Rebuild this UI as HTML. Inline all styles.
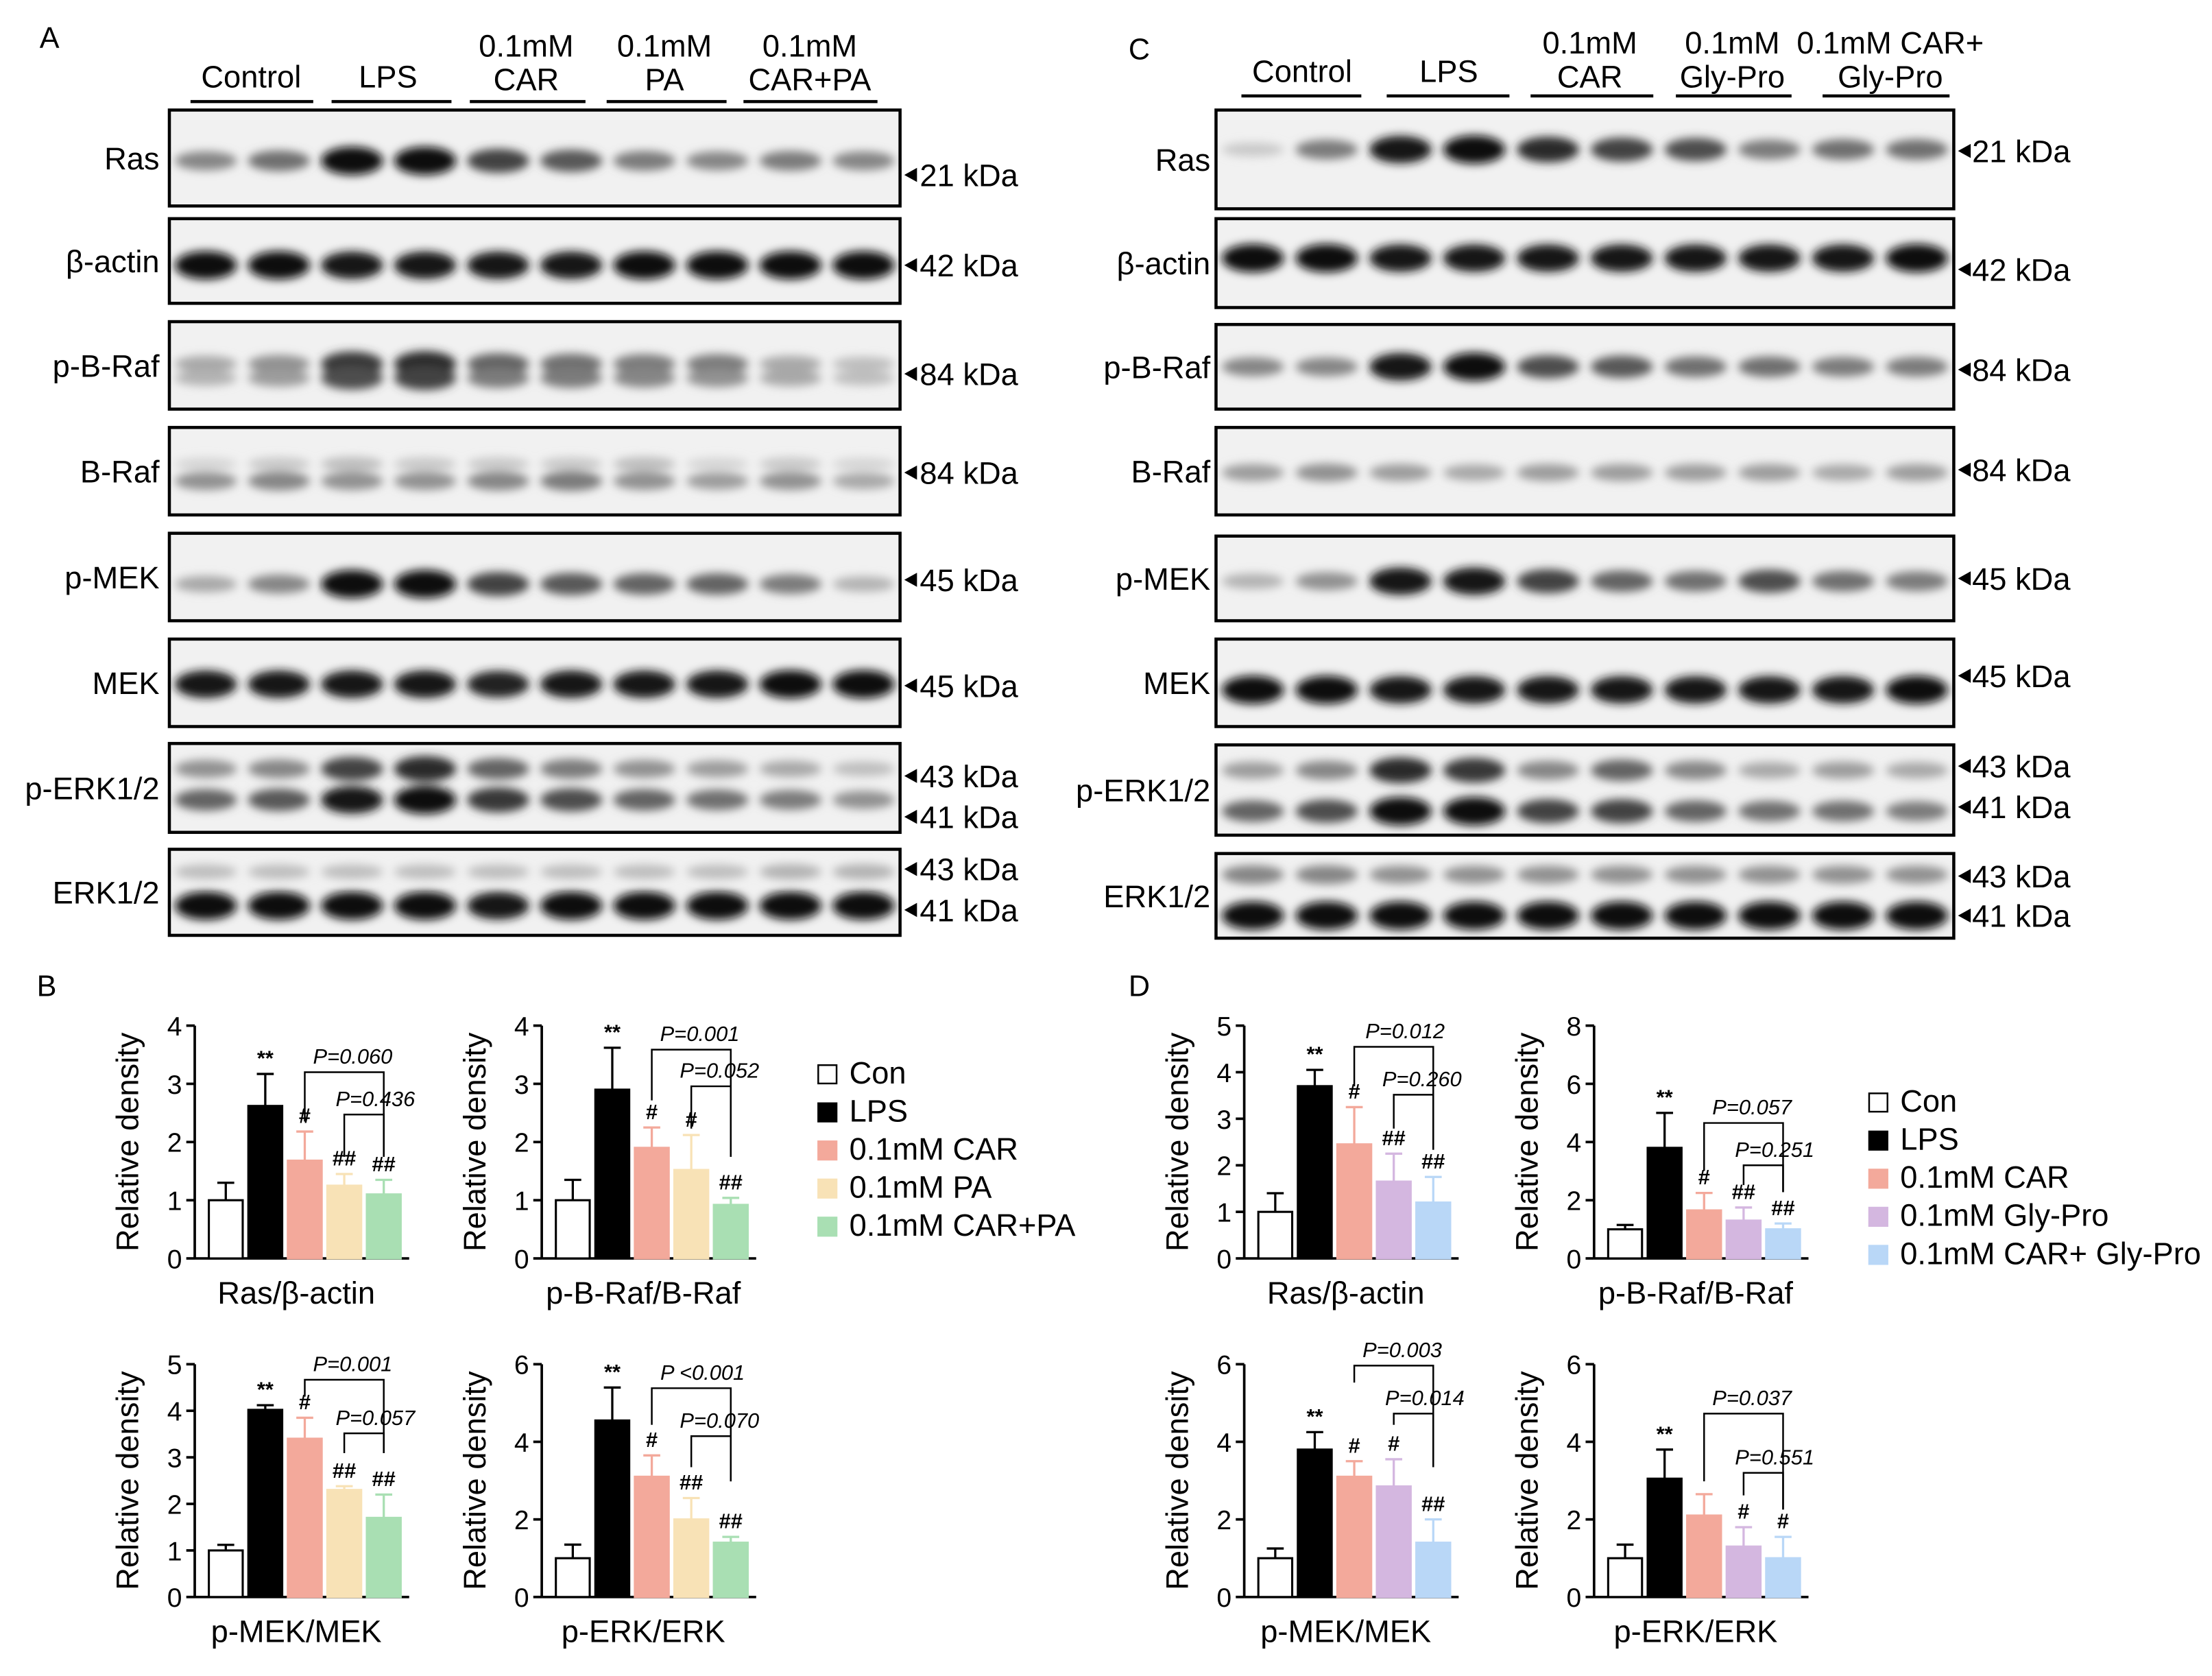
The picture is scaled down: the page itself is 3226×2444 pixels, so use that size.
<!DOCTYPE html>
<html><head><meta charset="utf-8"><style>html,body{margin:0;padding:0;background:#fff}svg{display:block}text{font-family:"Liberation Sans",sans-serif}</style></head>
<body>
<svg id="fig" xmlns="http://www.w3.org/2000/svg" width="3226" height="2444" viewBox="0 0 1568 1188">
<defs>
<filter id="blur" x="-50%" y="-100%" width="200%" height="300%"><feGaussianBlur stdDeviation="3.2"/></filter>
<filter id="blur2" x="-20%" y="-20%" width="140%" height="140%"><feGaussianBlur stdDeviation="6"/></filter>
</defs>
<g id="root"></g>
</svg>
<script>
// ---- Chart data ----
const groupsB = ["Con","LPS","0.1mM CAR","0.1mM PA","0.1mM CAR+PA"];
const groupsD = ["Con","LPS","0.1mM CAR","0.1mM Gly-Pro","0.1mM CAR+ Gly-Pro"];
const colorsB = ["#ffffff","#000000","#f3a99b","#f8e2b6","#a9dfb3"];
const colorsD = ["#ffffff","#000000","#f3a99b","#d4b7e0","#b9d7f7"];
const rasB = [1.0, 2.62, 1.68, 1.25, 1.1];
const rasBerr = [0.3, 0.55, 0.5, 0.2, 0.25];
const braB = [1.0, 2.9, 1.9, 1.52, 0.92];
const braBerr = [0.35, 0.72, 0.35, 0.6, 0.12];
const mekB = [1.0, 4.02, 3.4, 2.3, 1.7];
const mekBerr = [0.12, 0.1, 0.45, 0.08, 0.5];
const erkB = [1.0, 4.55, 3.1, 2.0, 1.4];
const erkBerr = [0.35, 0.85, 0.55, 0.55, 0.15];
const rasD = [1.0, 3.7, 2.45, 1.65, 1.2];
const rasDerr = [0.4, 0.35, 0.8, 0.6, 0.55];
const braD = [1.0, 3.8, 1.65, 1.3, 1.0];
const braDerr = [0.15, 1.2, 0.6, 0.45, 0.2];
const mekD = [1.0, 3.8, 3.1, 2.85, 1.4];
const mekDerr = [0.25, 0.45, 0.4, 0.7, 0.6];
const erkD = [1.0, 3.05, 2.1, 1.3, 1.0];
const erkDerr = [0.35, 0.75, 0.55, 0.5, 0.55];
const sigB1 = ["","**","#","##","##"];
const sigB2 = ["","**","#","#","##"];
const sigB3 = ["","**","#","##","##"];
const sigB4 = ["","**","#","##","##"];
const sigD1 = ["","**","#","##","##"];
const sigD2 = ["","**","#","##","##"];
const sigD3 = ["","**","#","#","##"];
const sigD4 = ["","**","","#","#"];
const ticks4 = [0,1,2,3,4];
const ticks5 = [0,1,2,3,4,5];
const ticks6 = [0,2,4,6];
const ticks8 = [0,2,4,6,8];

const NS="http://www.w3.org/2000/svg";
const root=document.getElementById('root');
function el(tag,attrs,parent,txt){const e=document.createElementNS(NS,tag);for(const k in attrs)e.setAttribute(k,attrs[k]);if(txt!==undefined)e.textContent=txt;(parent||root).appendChild(e);return e;}

// panel letters
[["A",28,34],["B",26,706],["C",800,42],["D",800,706]].forEach(l=>{
  const t=el('text',{x:l[1],y:l[2],'font-size':21},root,l[0]);
  
  
});

// ---- blots ----
function headers(list,lineY){
  list.forEach(h=>{
    const g=el('g',{});
    
    
    h.lines.forEach((s,i)=>el('text',{x:h.c,y:h.y0+i*24,'font-size':22,'text-anchor':'middle'},g,s));
    el('line',{x1:h.a,x2:h.b,y1:lineY,y2:lineY,stroke:'#000','stroke-width':2.2},g);
  });
}
headers([{c:178,a:135,b:222,y0:62,lines:["Control"]},{c:275,a:235,b:320,y0:62,lines:["LPS"]},
 {c:373,a:333,b:415,y0:40,lines:["0.1mM","CAR"]},{c:471,a:430,b:515,y0:40,lines:["0.1mM","PA"]},
 {c:574,a:527,b:622,y0:40,lines:["0.1mM","CAR+PA"]}],72);
headers([{c:923,a:880,b:965,y0:58,lines:["Control"]},{c:1027,a:983,b:1070,y0:58,lines:["LPS"]},
 {c:1127,a:1085,b:1172,y0:38,lines:["0.1mM","CAR"]},{c:1228,a:1188,b:1270,y0:38,lines:["0.1mM","Gly-Pro"]},
 {c:1340,a:1292,b:1382,y0:38,lines:["0.1mM CAR+","Gly-Pro"]}],68);

const blotA=[
 {n:"Ras",y:78,h:68,b:[{o:36,w:[.45,.55,1,1,.75,.65,.5,.45,.5,.45]}],k:[["21 kDa",46]]},
 {n:"β-actin",y:155,h:60,b:[{o:33,w:[1,1,.95,.95,.95,.95,1,1,1,1]}],k:[["42 kDa",33]]},
 {n:"p-B-Raf",y:228,h:62,b:[{o:30,w:[.3,.4,.8,.85,.6,.55,.5,.5,.3,.2]},{o:40,w:[.25,.35,.7,.75,.5,.5,.45,.4,.3,.2]}],k:[["84 kDa",37]]},
 {n:"B-Raf",y:303,h:62,b:[{o:38,w:[.4,.45,.4,.4,.45,.5,.4,.35,.4,.3]},{o:26,w:[.1,.15,.2,.15,.15,.15,.2,.1,.15,.1]}],k:[["84 kDa",32]]},
 {n:"p-MEK",y:378,h:62,b:[{o:36,w:[.3,.45,1,1,.75,.65,.6,.6,.5,.25]}],k:[["45 kDa",33]]},
 {n:"MEK",y:453,h:62,b:[{o:32,w:[.95,.95,.95,.95,.9,.95,.95,.95,1,1]}],k:[["45 kDa",33]]},
 {n:"p-ERK1/2",y:527,h:63,b:[{o:18,w:[.4,.45,.75,.85,.6,.5,.4,.35,.3,.2]},{o:40,w:[.6,.65,.95,1,.8,.7,.6,.55,.5,.4]}],k:[["43 kDa",23],["41 kDa",52]]},
 {n:"ERK1/2",y:602,h:61,b:[{o:16,w:[.2,.2,.2,.2,.2,.2,.2,.2,.25,.25]},{o:40,w:[1,1,1,1,.95,1,1,1,1,1]}],k:[["43 kDa",14],["41 kDa",43]]}
];
const blotC=[
 {n:"Ras",y:78,h:70,b:[{o:28,w:[.15,.5,.95,1,.85,.75,.7,.5,.55,.55]}],k:[["21 kDa",29]]},
 {n:"β-actin",y:155,h:63,b:[{o:28,w:[1,1,.95,.95,.95,.95,.95,.95,.95,1]}],k:[["42 kDa",36]]},
 {n:"p-B-Raf",y:230,h:60,b:[{o:30,w:[.45,.45,.95,1,.7,.65,.55,.55,.5,.5]}],k:[["84 kDa",32]]},
 {n:"B-Raf",y:303,h:62,b:[{o:32,w:[.35,.4,.35,.3,.35,.35,.35,.35,.3,.35]}],k:[["84 kDa",30]]},
 {n:"p-MEK",y:380,h:60,b:[{o:32,w:[.25,.4,.95,.95,.75,.6,.55,.7,.55,.5]}],k:[["45 kDa",30]]},
 {n:"MEK",y:453,h:62,b:[{o:36,w:[1,1,.95,.95,.95,.95,.95,.95,.95,1]}],k:[["45 kDa",26]]},
 {n:"p-ERK1/2",y:528,h:64,b:[{o:18,w:[.35,.45,.85,.8,.45,.6,.45,.3,.35,.3]},{o:47,w:[.6,.7,1,1,.75,.75,.6,.55,.55,.5]}],k:[["43 kDa",15],["41 kDa",44]]},
 {n:"ERK1/2",y:605,h:60,b:[{o:15,w:[.45,.45,.4,.4,.4,.4,.4,.4,.4,.4]},{o:44,w:[1,1,1,1,1,1,1,1,1,1]}],k:[["43 kDa",16],["41 kDa",44]]}
];
function blots(list,x0,x1,lab,kx,bandW){
  const sp=(x1-x0)/10;
  list.forEach(r=>{
    const g=el('g',{});
    
    
    el('rect',{x:x0,y:r.y,width:x1-x0,height:r.h,fill:'#f1f1f1'},g);
    const bg=el('g',{filter:'url(#blur)'},g);
    r.b.forEach(b=>{b.w.forEach((w,i)=>{
      const c=Math.round(235-225*w);
      el('ellipse',{cx:x0+sp*(i+.5),cy:r.y+b.o,rx:bandW,ry:4+6*w,fill:`rgb(${c},${c},${c})`},bg);
    });});
    el('rect',{x:x0,y:r.y,width:x1-x0,height:r.h,fill:'none',stroke:'#000','stroke-width':2.2},g);
    el('text',{x:lab,y:r.y+r.h/2+8,'font-size':22,'text-anchor':'end'},g,r.n);
    r.k.forEach(k=>{
      el('path',{d:`M${x1+3},${r.y+k[1]} l9,-5 v10 z`,fill:'#000'},g);
      el('text',{x:kx,y:r.y+k[1]+8,'font-size':22},g,k[0]);
    });
  });
}
blots(blotA,120,638,113,652,22);
blots(blotC,862,1385,858,1398,22);

// ---- bar charts ----
function chart(name,ax,y0,ytop,ymax,ticks,vals,errs,colors,sigs,xlabel,brackets){
  const g=el('g',{});
  
  
  const y=v=>y0-(y0-ytop)*v/ymax;
  const bw=24,sp=28,bx=i=>ax+10+i*sp;
  el('line',{x1:ax,x2:ax,y1:ytop,y2:y0,stroke:'#000','stroke-width':1.8},g);
  el('line',{x1:ax,x2:ax+152,y1:y0,y2:y0,stroke:'#000','stroke-width':1.8},g);
  ticks.forEach(t=>{
    el('line',{x1:ax-6,x2:ax,y1:y(t),y2:y(t),stroke:'#000','stroke-width':1.8},g);
    el('text',{x:ax-9,y:y(t)+7,'font-size':19,'text-anchor':'end'},g,t);
  });
  const yt=el('text',{transform:`translate(${ax-40},${(y0+ytop)/2}) rotate(-90)`,'font-size':22,'text-anchor':'middle'},g,'Relative density');
  
  
  const xt=el('text',{x:ax+72,y:y0+32,'font-size':22,'text-anchor':'middle'},g,xlabel);
  
  
  vals.forEach((v,i)=>{
    const c=bx(i)+bw/2, top=y(v), et=y(v+errs[i]);
    const stroke=i==0||i==1?'#000':colors[i]=='#ffffff'?'#000':d3(colors[i]);
    el('line',{x1:c,x2:c,y1:top,y2:et,stroke:i==0||i==1?'#000':stroke,'stroke-width':1.6},g);
    el('line',{x1:c-6,x2:c+6,y1:et,y2:et,stroke:i==0||i==1?'#000':stroke,'stroke-width':1.6},g);
    const r=el('rect',{x:bx(i),y:top,width:bw,height:y0-top,fill:colors[i],stroke:i==0?'#000':colors[i],'stroke-width':1.5},g);
    
    
    if(sigs[i]) el('text',{x:c,y:et-6,'font-size':15,'font-weight':'bold','text-anchor':'middle'},g,sigs[i]);
  });
  brackets.forEach(b=>{
    const a=bx(b[0])+bw/2, e=bx(b[1])+bw/2, by=b[2], ey1=b[3], ey2=b[4];
    el('path',{d:`M${a},${ey1} V${by} H${e} V${ey2}`,fill:'none',stroke:'#000','stroke-width':1.2},g);
    el('text',{x:(a+e)/2+b[6],y:by-6,'font-size':15,'font-style':'italic','text-anchor':'middle'},g,b[5]);
  });
}
function d3(c){return c;}
chart('ras-b',138,892,727,4,ticks4,rasB,rasBerr,colorsB,sigB1,'Ras/β-actin',[[2,4,760,795,820,'P=0.060',6],[3,4,790,820,820,'P=0.436',8]]);
chart('braf-b',384,892,727,4,ticks4,braB,braBerr,colorsB,sigB2,'p-B-Raf/B-Raf',[[2,4,744,780,820,'P=0.001',6],[3,4,770,800,820,'P=0.052',6]]);
chart('mek-b',138,1132,967,5,ticks5,mekB,mekBerr,colorsB,sigB3,'p-MEK/MEK',[[2,4,978,990,1030,'P=0.001',6],[3,4,1016,1030,1030,'P=0.057',8]]);
chart('erk-b',384,1132,967,6,ticks6,erkB,erkBerr,colorsB,sigB4,'p-ERK/ERK',[[2,4,984,1010,1050,'P <0.001',8],[3,4,1018,1040,1050,'P=0.070',6]]);
chart('ras-d',882,892,727,5,ticks5,rasD,rasDerr,colorsD,sigD1,'Ras/β-actin',[[2,4,742,770,815,'P=0.012',8],[3,4,776,800,815,'P=0.260',6]]);
chart('braf-d',1130,892,727,8,ticks8,braD,braDerr,colorsD,sigD2,'p-B-Raf/B-Raf',[[2,4,796,830,845,'P=0.057',6],[3,4,826,840,845,'P=0.251',8]]);
chart('mek-d',882,1132,967,6,ticks6,mekD,mekDerr,colorsD,sigD3,'p-MEK/MEK',[[2,4,968,980,1040,'P=0.003',6],[3,4,1002,1010,1040,'P=0.014',8]]);
chart('erk-d',1130,1132,967,6,ticks6,erkD,erkDerr,colorsD,sigD4,'p-ERK/ERK',[[2,4,1002,1050,1070,'P=0.037',6],[3,4,1044,1060,1070,'P=0.551',8]]);

// legends
function legend(x,y0,dy,groups,colors){
  const g=el('g',{});
  
  
  groups.forEach((n,i)=>{
    const e=el('g',{},g);
    
    
    el('rect',{x:x,y:y0+i*dy-13,width:13,height:13,fill:colors[i],stroke:i==0?'#000':colors[i],'stroke-width':1.2},e);
    el('text',{x:x+22,y:y0+i*dy,'font-size':22},e,n);
  });
}
legend(580,768,27,groupsB,colorsB);
legend(1325,788,27,groupsD,colorsD);
</script>
</body></html>
